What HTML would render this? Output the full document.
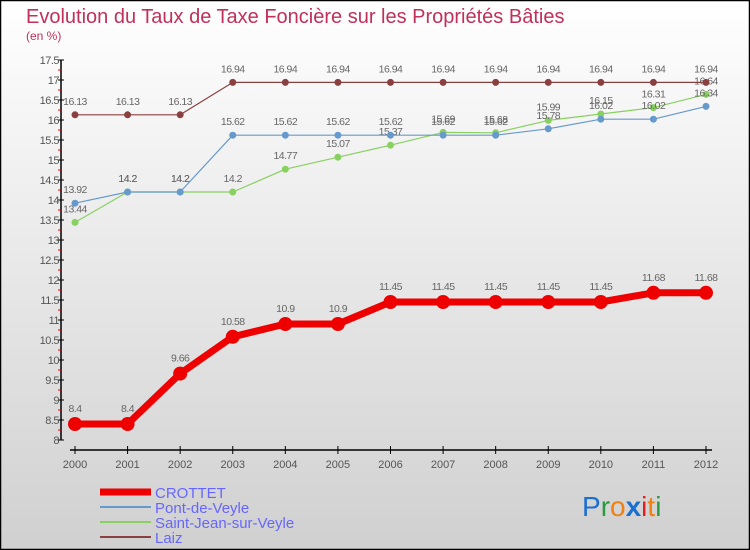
<!DOCTYPE html>
<html><head><meta charset="utf-8"><style>
body{margin:0;}
#c{width:750px;height:550px;position:relative;overflow:hidden;}
</style></head><body>
<div id="c">
<svg id="s" width="750" height="550" xmlns="http://www.w3.org/2000/svg" font-family="Liberation Sans, sans-serif">
<defs><linearGradient id="bg" x1="0" y1="0" x2="0" y2="1"><stop offset="0" stop-color="#ffffff"/><stop offset="1" stop-color="#d0d0d0"/></linearGradient></defs>
<rect x="0.5" y="0.5" width="749" height="549" fill="url(#bg)" stroke="#000" stroke-width="1.5"/>
<text x="26" y="23" font-size="20" fill="#c0305a">Evolution du Taux de Taxe Foncière sur les Propriétés Bâties</text>
<text x="26" y="40" font-size="12" fill="#c0305a">(en %)</text>
<g id="axes"></g><g id="series"></g><g id="legend"></g>
<text x="582" y="516" font-size="28"><tspan fill="#1a6fd0">P</tspan><tspan fill="#2a9a40">r</tspan><tspan fill="#f08010">o</tspan><tspan fill="#1a6fd0" font-weight="bold">x</tspan><tspan fill="#e02020">i</tspan><tspan fill="#f08010">t</tspan><tspan fill="#2a9a40">i</tspan></text>
</svg>
</div>
<script>
const years=[2000,2001,2002,2003,2004,2005,2006,2007,2008,2009,2010,2011,2012];
const crottet=[8.4,8.4,9.66,10.58,10.9,10.9,11.45,11.45,11.45,11.45,11.45,11.68,11.68];
const pont=[13.92,14.2,14.2,15.62,15.62,15.62,15.62,15.62,15.62,15.78,16.02,16.02,16.34];
const saintJean=[13.44,14.2,14.2,14.2,14.77,15.07,15.37,15.69,15.68,15.99,16.15,16.31,16.64];
const laiz=[16.13,16.13,16.13,16.94,16.94,16.94,16.94,16.94,16.94,16.94,16.94,16.94,16.94];
const yTicks=[8,8.5,9,9.5,10,10.5,11,11.5,12,12.5,13,13.5,14,14.5,15,15.5,16,16.5,17,17.5];
const NS="http://www.w3.org/2000/svg";
const x=i=>75+i*(706-75)/(years.length-1);
const y=v=>440-(v-8)*40;
function mk(tag,attrs,parent){const e=document.createElementNS(NS,tag);for(const k in attrs)e.setAttribute(k,attrs[k]);parent.appendChild(e);return e;}
const axes=document.getElementById('axes');
let e=mk('line',{x1:61,y1:y(17.5),x2:61,y2:y(8),stroke:'#000','stroke-width':1.5},axes);


yTicks.forEach((v,k)=>{
  mk('line',{x1:58,y1:y(v),x2:64,y2:y(v),stroke:'#000'},axes);
  if(k<yTicks.length-1) mk('line',{x1:58,y1:y(v+0.25),x2:61,y2:y(v+0.25),stroke:'#e00'},axes);
  const t=mk('text',{x:59,y:y(v)+4,'font-size':11,fill:'#555','text-anchor':'end','letter-spacing':'-0.5'},axes);
  t.textContent=String(v);
  
  
});
e=mk('line',{x1:70,y1:450,x2:712,y2:450,stroke:'#000','stroke-width':1.5},axes);


years.forEach((yr,i)=>{
  mk('line',{x1:x(i),y1:446,x2:x(i),y2:454,stroke:'#000'},axes);
  const t=mk('text',{x:x(i),y:468,'font-size':11,fill:'#555','text-anchor':'middle'},axes);
  t.textContent=yr;
  
  
});
const series=document.getElementById('series');
function draw(vals,color,w,r,name,dy){
  const g=mk('g',{},series);
  
  
  mk('polyline',{points:vals.map((v,i)=>x(i)+','+y(v)).join(' '),fill:'none',stroke:color,'stroke-width':w,'stroke-linejoin':'round'},g);
  vals.forEach((v,i)=>{
    const c=mk('circle',{cx:x(i),cy:y(v),r:r,fill:color},g);
    
    
    const t=mk('text',{x:x(i),y:y(v)+dy,'font-size':10.5,fill:'#666','text-anchor':'middle','letter-spacing':'-0.5'},g);
    t.textContent=String(v);
    
    
  });
}
draw(saintJean,'#88d060',1.2,3.5,'saint-jean',-10);
draw(pont,'#6699cc',1.2,3.5,'pont-de-veyle',-10);
draw(laiz,'#8a4040',1.2,3.5,'laiz',-10);
draw(crottet,'#ee0000',7,7,'crottet',-12);
const leg=document.getElementById('legend');
const items=[['CROTTET','#ee0000',7],['Pont-de-Veyle','#6699cc',2],['Saint-Jean-sur-Veyle','#88d060',2],['Laiz','#8a4040',2]];
items.forEach((it,k)=>{
  const yy=492+k*15;
  const g=mk('g',{},leg);
  
  
  mk('line',{x1:100,y1:yy,x2:151,y2:yy,stroke:it[1],'stroke-width':it[2]},g);
  const t=mk('text',{x:155,y:yy+6,'font-size':15,fill:'#6666ff'},g);
  t.textContent=it[0];
});
</script>
</body></html>
